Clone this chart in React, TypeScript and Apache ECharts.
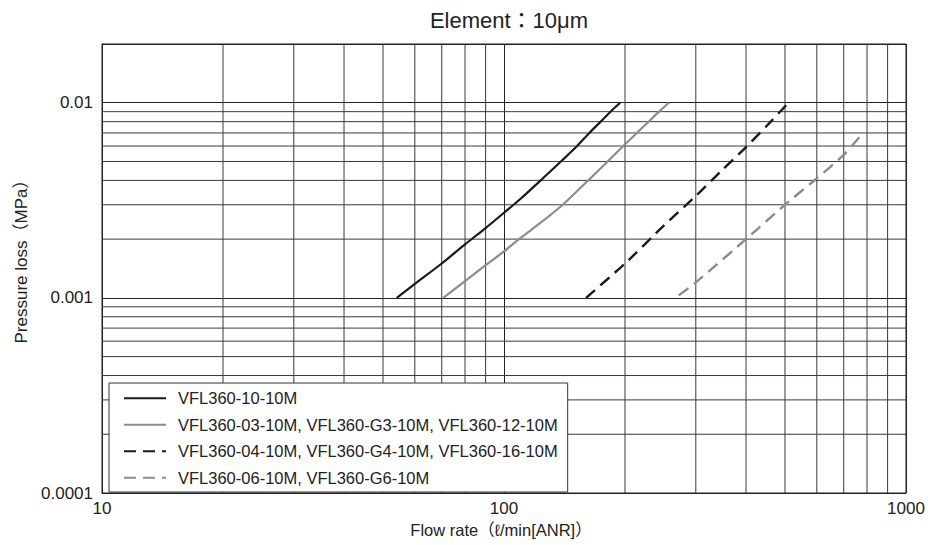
import React, { useEffect, useRef } from "react";
import * as echarts from "echarts";

const titleText = "Element：10μm";
const xAxisName = "Flow rate（ℓ/min[ANR]）";
const yAxisName = "Pressure loss（MPa）";

const seriesNames = [
  "VFL360-10-10M",
  "VFL360-03-10M, VFL360-G3-10M, VFL360-12-10M",
  "VFL360-04-10M, VFL360-G4-10M, VFL360-16-10M",
  "VFL360-06-10M, VFL360-G6-10M",
];

// VFL360-10-10M (black solid)
const s1Flow = [54.1, 60, 70, 80, 90, 100, 110, 125, 140, 152, 163, 174, 184, 194.5];
const s1Loss = [0.001, 0.00118, 0.0015, 0.00188, 0.00228, 0.00273, 0.00322, 0.0041, 0.0051, 0.006, 0.007, 0.008, 0.009, 0.01];

// VFL360-03/G3/12 (grey solid)
const s2Flow = [70.6, 80, 90, 100, 109, 125, 140, 162, 181, 198, 214, 229, 243, 257];
const s2Loss = [0.001, 0.00122, 0.00147, 0.00173, 0.002, 0.00248, 0.003, 0.004, 0.005, 0.006, 0.007, 0.008, 0.009, 0.01];

// VFL360-04/G4/16 (black dashed)
const s3Flow = [160, 200, 250, 300, 350, 400, 450, 500, 510];
const s3Loss = [0.001, 0.0015, 0.00235, 0.00333, 0.00455, 0.00593, 0.0076, 0.00957, 0.01];

// VFL360-06/G6 (grey dashed)
const s4Flow = [272, 300, 400, 500, 600, 700, 783];
const s4Loss = [0.00103, 0.0012, 0.002, 0.003, 0.0041, 0.0054, 0.00705];

const xMinorGrid = [20, 30, 40, 50, 60, 70, 80, 90, 200, 300, 400, 500, 600, 700, 800, 900];
const yMinorGrid = [
  0.0002, 0.0003, 0.0004, 0.0005, 0.0006, 0.0007, 0.0008, 0.0009,
  0.002, 0.003, 0.004, 0.005, 0.006, 0.007, 0.008, 0.009,
];

const xMin = 10;
const xMax = 1000;
const yMin = 0.0001;
const yMax = 0.02;

const FONT = "'Liberation Sans', Arial, 'Noto Sans CJK JP', sans-serif";

function zip(xs: number[], ys: number[]) {
  return xs.map((x, i) => [x, ys[i]]);
}

function logLabel(v: number) {
  const l = Math.log10(v);
  const e = Math.round(l);
  if (Math.abs(l - e) > 0.01) return "";
  return e < 0 ? Math.pow(10, e).toFixed(-e) : String(Math.round(Math.pow(10, e)));
}

export default function App() {
  const ref = useRef<HTMLDivElement>(null);
  useEffect(() => {
    const chart = echarts.init(ref.current!, null, { renderer: "svg" });
    const black = "#1a1a1a";
    const grey = "#8c8c8c";
    const gridColor = "#3a3a3a";

    const gridSeries: any[] = [];
    xMinorGrid.forEach((v) => {
      gridSeries.push({
        type: "line",
        silent: true,
        z: 1,
        symbol: "none",
        data: [
          [v, yMin],
          [v, yMax],
        ],
        lineStyle: { color: gridColor, width: 1 },
      });
    });
    yMinorGrid.forEach((v) => {
      gridSeries.push({
        type: "line",
        silent: true,
        z: 1,
        symbol: "none",
        data: [
          [xMin, v],
          [xMax, v],
        ],
        lineStyle: { color: gridColor, width: 1 },
      });
    });

    chart.setOption({
      animation: false,
      textStyle: { fontFamily: FONT },
      title: {
        text: titleText,
        left: 504,
        textAlign: "center",
        top: 4,
        textStyle: { fontFamily: FONT, fontSize: 22, fontWeight: "normal", color: "#222" },
      },
      grid: {
        left: 102,
        right: 22,
        top: 44,
        bottom: 52,
        show: true,
        borderColor: "#222",
        borderWidth: 1,
        backgroundColor: "#fff",
      },
      legend: {
        orient: "vertical",
        left: 109,
        top: 383,
        data: seriesNames,
        backgroundColor: "#fff",
        borderColor: "#333",
        borderWidth: 1,
        borderRadius: 0,
        padding: [7, 10, 6, 14],
        itemWidth: 42,
        itemHeight: 14,
        itemGap: 10,
        selectedMode: false,
        itemStyle: { opacity: 0 },
        textStyle: {
          fontFamily: FONT,
          fontSize: 16.5,
          color: "#222",
          lineHeight: 16,
          padding: [0, 0, 0, 7],
        },
      },
      xAxis: {
        type: "log",
        logBase: 10,
        min: xMin,
        max: xMax,
        name: xAxisName,
        nameLocation: "middle",
        nameGap: 28,
        nameTextStyle: { fontFamily: FONT, fontSize: 16.5, color: "#222", padding: [0, 6, 0, 0] },
        axisLine: { show: true, lineStyle: { color: "#222", width: 1 } },
        axisTick: { show: false },
        axisLabel: {
          fontFamily: FONT,
          fontSize: 17,
          color: "#222",
          margin: 7,
          formatter: logLabel,
        },
        splitLine: { show: true, lineStyle: { color: "#222", width: 1 } },
        minorTick: { show: false },
        minorSplitLine: { show: false },
      },
      yAxis: {
        type: "log",
        logBase: 10,
        min: yMin,
        max: yMax,
        name: yAxisName,
        nameLocation: "middle",
        nameGap: 72,
        nameTextStyle: { fontFamily: FONT, fontSize: 17, color: "#222", padding: [0, 0, 0, 22] },
        axisLine: { show: true, lineStyle: { color: "#222", width: 1 } },
        axisTick: { show: false },
        axisLabel: {
          fontFamily: FONT,
          fontSize: 17,
          color: "#222",
          margin: 9,
          showMaxLabel: false,
          formatter: logLabel,
        },
        splitLine: { show: true, lineStyle: { color: "#222", width: 1 } },
        minorTick: { show: false },
        minorSplitLine: { show: false },
      },
      series: [
        ...gridSeries,
        {
          name: seriesNames[0],
          type: "line",
          z: 3,
          symbol: "none",
          smooth: 0.25,
          data: zip(s1Flow, s1Loss),
          lineStyle: { color: black, width: 2.2, type: "solid" },
          itemStyle: { color: black },
        },
        {
          name: seriesNames[1],
          type: "line",
          z: 3,
          symbol: "none",
          smooth: 0.2,
          data: zip(s2Flow, s2Loss),
          lineStyle: { color: grey, width: 2.2, type: "solid" },
          itemStyle: { color: grey },
        },
        {
          name: seriesNames[2],
          type: "line",
          z: 3,
          symbol: "none",
          smooth: 0.2,
          data: zip(s3Flow, s3Loss),
          lineStyle: { color: black, width: 2.4, type: [12, 7] },
          itemStyle: { color: black },
        },
        {
          name: seriesNames[3],
          type: "line",
          z: 3,
          symbol: "none",
          smooth: 0.2,
          data: zip(s4Flow, s4Loss),
          lineStyle: { color: grey, width: 2.4, type: [12, 7] },
          itemStyle: { color: grey },
        },
      ],
    });
    return () => chart.dispose();
  }, []);
  return (
    <div
      ref={ref}
      style={{ position: "absolute", left: 0, top: 0, width: 928, height: 545 }}
    />
  );
}
